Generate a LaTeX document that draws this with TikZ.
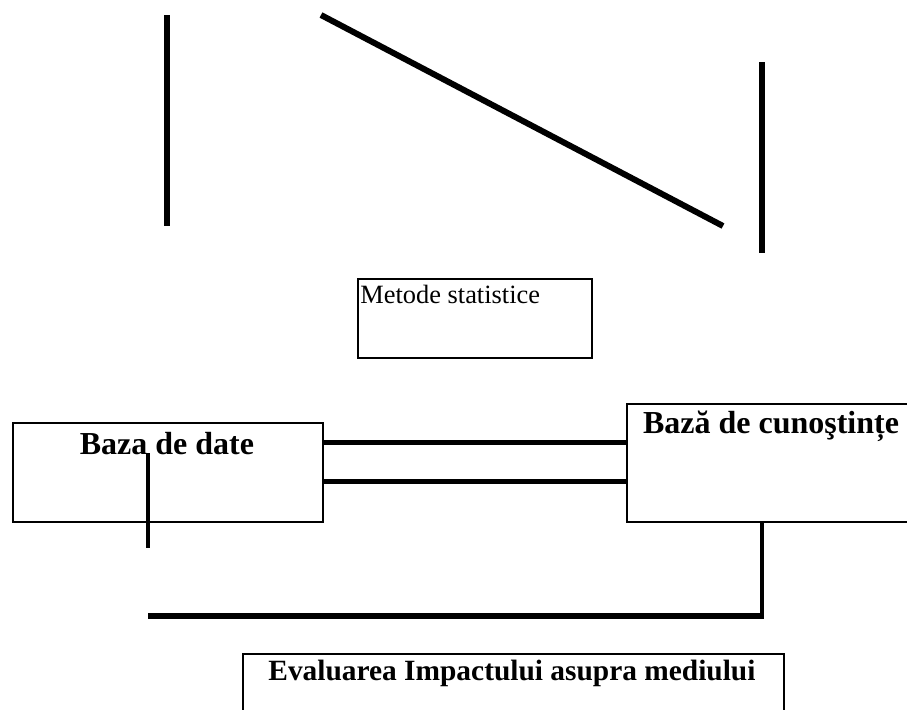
\documentclass[tikz,border=0pt]{standalone}
\usepackage{fontspec}
\setmainfont{Liberation Serif}
\usetikzlibrary{positioning}

\tikzset{
  box/.style={draw,line width=1pt,rectangle,inner sep=0pt},
  bigtxt/.style={font=\fontsize{16}{18}\selectfont\bfseries,inner sep=0pt},
  evtxt/.style={font=\fontsize{14.7}{17}\selectfont\bfseries,inner sep=0pt},
  smalltxt/.style={font=\fontsize{13.2}{15}\selectfont,inner sep=0pt},
  heavy/.style={line width=3pt},
  midline/.style={line width=2.5pt},
  thinline/.style={line width=1.8pt}
}

\begin{document}
\begin{tikzpicture}[x=0.5pt,y=-0.5pt]
\useasboundingbox (0,0) rectangle (907,709);
\clip (0,0) rectangle (907,709);
% boxes
\node[box,minimum width=117pt,minimum height=39.5pt,anchor=north west] (ms) at (357,278) {};
\node[box,minimum width=155pt,minimum height=49.5pt,anchor=north west] (db) at (12,422) {};
\node[box,minimum width=160pt,minimum height=59pt,anchor=north west] (kb) at (626,403) {};
\node[box,minimum width=270.5pt,minimum height=40pt,anchor=north west] (ev) at (242,653) {};
% texts
\node[smalltxt,anchor=base west] (mst) at (360,303) {Metode statistice};
\node[bigtxt,anchor=base] (dbt) at (167,454) {Baza de date};
\node[bigtxt,anchor=base] (kbt) at (771,433) {Bază de cunoştințe};
\node[evtxt,anchor=base west] (evt) at (268,680) {Evaluarea Impactului asupra mediului};
% free ends
\coordinate (l1a) at (167,15);
\coordinate (l1b) at (167,226);
\coordinate (d1a) at (321,15);
\coordinate (d1b) at (723,226);
\coordinate (r1a) at (762,62);
\coordinate (r1b) at (762,253);
\coordinate (dbin) at (148,453);
\coordinate (dbout) at (148,548);
\coordinate (kbout) at (762,521);
\coordinate (turn) at (762,616);
\coordinate (endl) at (148,616);
% top strokes
\draw[heavy] (l1a)--(l1b);
\draw[heavy] (d1a)--(d1b);
\draw[heavy] (r1a)--(r1b);
% links between the two bases
\draw[midline] (db.east |- 0,442)--(kb.west |- 0,442);
\draw[midline] (db.east |- 0,481)--(kb.west |- 0,481);
\draw[thinline] (dbin)--(dbout);
\draw[thinline] (kbout)--(turn);
\draw[heavy] (turn)++(1.8,0)--(endl);
\end{tikzpicture}
\end{document}
